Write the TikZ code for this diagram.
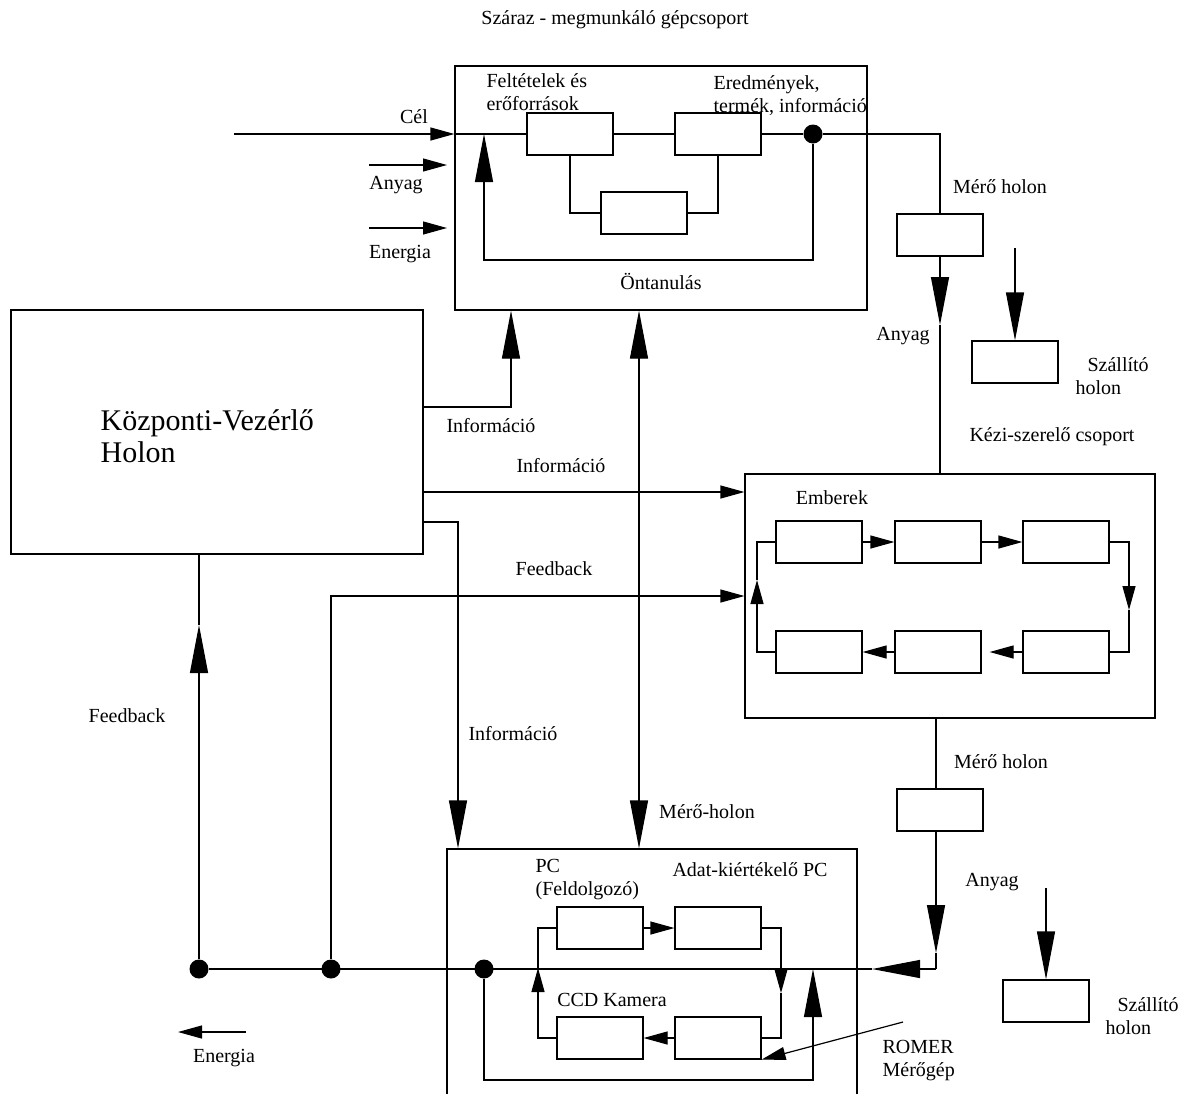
\documentclass[tikz,border=0pt]{standalone}
\usepackage{fontspec}
\setmainfont{Liberation Serif}
\usetikzlibrary{arrows.meta}
\begin{document}
\begin{tikzpicture}[x=0.5pt,y=-0.5pt, line width=0.6pt,
  box/.style={draw, rectangle, inner sep=0pt, minimum width=43pt, minimum height=21pt},
  bigbox/.style={draw, rectangle, inner sep=0pt, minimum width=206pt, minimum height=122pt},
  dot/.style={circle, fill, inner sep=0pt, minimum size=9.5pt},
  lbl/.style={inner sep=0pt, font=\fontsize{10pt}{11.5pt}\selectfont, align=left},
  bigarr/.style={-{Triangle[length=24pt,width=9pt]}},
  smlarr/.style={-{Triangle[length=12pt,width=6.5pt]}},
  bothbig/.style={{Triangle[length=24pt,width=9pt]}-{Triangle[length=24pt,width=9pt]}}
]
\clip (0,0) rectangle (1183,1093);
\fill[white] (0,0) rectangle (1183,1093);

% ---------- big boxes ----------
\node[bigbox] (T) at (661,188) {};
\node[bigbox] (K) at (217,432) {};
\node[bigbox, minimum width=205pt] (H) at (950,596) {};
\node[draw, rectangle, inner sep=0pt, minimum width=205pt, minimum height=130.5pt] (L) at (652,979.5) {};

% ---------- top box content ----------
\node[box] (A) at (570,134) {};
\node[box] (B) at (718,134) {};
\node[box] (C) at (644,213) {};
\node[dot] (D0) at (813,134) {};

\node[box] (M1) at (940,235) {};
\node[box] (S1) at (1015,362) {};

% ---------- Kezi box content ----------
\node[box] (H1) at (819,542) {};
\node[box] (H2) at (938,542) {};
\node[box] (H3) at (1066,542) {};
\node[box] (H4) at (819,652) {};
\node[box] (H5) at (938,652) {};
\node[box] (H6) at (1066,652) {};

\node[box] (M2) at (940,810) {};
\node[box] (S2) at (1046,1001) {};

% ---------- PC box content ----------
\node[box] (P1) at (600,928) {};
\node[box] (P2) at (718,928) {};
\node[box] (P3) at (600,1038) {};
\node[box] (P4) at (718,1038) {};

\node[dot] (D1) at (199,969) {};
\node[dot] (D2) at (331,969) {};
\node[dot] (D3) at (484,969) {};

% ---------- free ends ----------
\coordinate (celstart) at (234,134);
\coordinate (an1) at (369,165); \coordinate (an2) at (447,165);
\coordinate (en1) at (369,228); \coordinate (en2) at (447,228);
\coordinate (s1top) at (1015,248);
\coordinate (s2top) at (1046,888);
\coordinate (rom) at (903,1022);
\coordinate (eb1) at (246,1032); \coordinate (eb2) at (178,1032);
\coordinate (cbus) at (936,969);

% ---------- connectors: top ----------
\draw[smlarr] (celstart) -- (T.west |- 0,134);
\draw (T.west |- 0,134) -- (A.west);
\draw[smlarr] (an1) -- (an2);
\draw[smlarr] (en1) -- (en2);
\draw (A.east) -- (B.west);
\draw (B.east) -- (D0);
\draw (A.south) |- (C.west);
\draw (C.east) -| (B.south);
\draw[bigarr] (D0) |- (484,260) -- (484,134);
\draw (D0) -| (M1.north);
\draw[bigarr] (M1.south) -- (940,325);
\draw (940,325) -- (940,0 |- H.north);
\draw[bigarr] (s1top) -- (S1.north);

% ---------- connectors: central holon ----------
\draw[bigarr] (K.east |- 0,407) -| (511,0 |- T.south);
\draw[smlarr] (K.east |- 0,492) -- (H.west |- 0,492);
\draw[bigarr] (K.east |- 0,522) -| (458,0 |- L.north);
\draw[smlarr] (D2) |- (H.west);
\draw[bothbig] (639,0 |- T.south) -- (639,0 |- L.north);
\draw[bigarr] (D1) -- (199,625);
\draw (199,625) -- (199,0 |- K.south);

% ---------- connectors: Kezi ----------
\draw[smlarr] (H1.east) -- (H2.west);
\draw[smlarr] (H2.east) -- (H3.west);
\draw[smlarr] (H3.east) -| (1129,610);
\draw (1129,610) |- (H6.east);
\draw[smlarr, shorten >=4pt] (H6.west) -- (H5.east);
\draw[smlarr] (H5.west) -- (H4.east);
\draw[smlarr] (H4.west) -| (757,580);
\draw (757,580) |- (H1.west);

% ---------- connectors: lower right ----------
\draw (936,0 |- H.south) -- (936,0 |- M2.north);
\draw[bigarr] (936,0 |- M2.south) -- (936,953);
\draw (936,953) -- (cbus);
\draw[bigarr] (cbus) -- (872,969);
\draw (872,969) -- (D1);
\draw[bigarr] (s2top) -- (S2.north);

% ---------- connectors: PC box ----------
\draw[smlarr] (P1.east) -- (P2.west);
\draw[smlarr] (P2.east) -| (781,993);
\draw (781,993) |- (P4.east);
\draw[smlarr] (P4.west) -- (P3.east);
\draw[smlarr] (P3.west) -| (538,968);
\draw (538,968) |- (P1.west);
\draw[bigarr] (D3) |- (813,1080) -- (813,969);
\draw[smlarr] (rom) -- (P4.south east);
\draw[smlarr] (eb1) -- (eb2);

% ---------- labels ----------
\node[lbl] (title) at (615,20) {Száraz - megmunkáló gépcsoport};
\node[lbl, anchor=west] (feltet) at (486,92) {Feltételek és\\erőforrások};
\node[lbl, anchor=west] (eredm) at (713,96) {Eredmények,\\termék, információ};
\node[lbl] (cel) at (414,117) {Cél};
\node[lbl] (anyag1) at (396,185) {Anyag};
\node[lbl] (energia1) at (400,254) {Energia};
\node[lbl] (ontan) at (661,281) {Öntanulás};
\node[lbl] (mero1) at (1000,187) {Mérő holon};
\node[lbl] (anyag2) at (903,336) {Anyag};
\node[lbl, anchor=west] (szall1) at (1075,376) {\hspace*{6pt}Szállító\\holon};
\node[lbl] (kezi) at (1052,437) {Kézi-szerelő csoport};
\node[inner sep=0pt, anchor=west, align=left, font=\fontsize{15pt}{16.2pt}\selectfont] (ktext) at (100,436) {Központi-Vezérlő\\Holon};
\node[lbl] (info1) at (491,426) {Információ};
\node[lbl] (info2) at (561,466) {Információ};
\node[lbl] (fb1) at (554,569) {Feedback};
\node[lbl] (emb) at (832,498) {Emberek};
\node[lbl] (fb2) at (127,716) {Feedback};
\node[lbl] (info3) at (513,734) {Információ};
\node[lbl] (mero2) at (1001,762) {Mérő holon};
\node[lbl] (meroh) at (707,812) {Mérő-holon};
\node[lbl] (anyag3) at (992,882) {Anyag};
\node[lbl, anchor=west] (pc) at (535,880) {PC\\(Feldolgozó)};
\node[lbl] (adat) at (750,870) {Adat-kiértékelő PC};
\node[lbl] (ccd) at (612,1000) {CCD Kamera};
\node[lbl, anchor=west] (szall2) at (1105,1016) {\hspace*{6pt}Szállító\\holon};
\node[lbl, anchor=west] (romer) at (882,1061) {ROMER\\Mérőgép};
\node[lbl] (energia2) at (224,1058) {Energia};
\end{tikzpicture}
\end{document}
